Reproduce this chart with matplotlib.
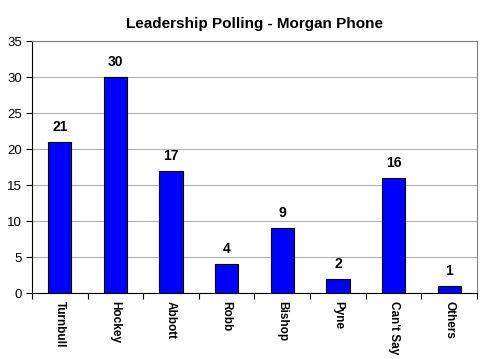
import matplotlib
matplotlib.use("Agg")
import matplotlib.pyplot as plt
import numpy as np

categories = ["Turnbull", "Hockey", "Abbott", "Robb", "Bishop", "Pyne", "Can't Say", "Others"]
values = [21, 30, 17, 4, 9, 2, 16, 1]
yticks = [0, 5, 10, 15, 20, 25, 30, 35]

plt.rcParams['font.family'] = ['Liberation Sans', 'DejaVu Sans']

fig = plt.figure(figsize=(4.85, 3.59), dpi=100)
ax = fig.add_axes([32/485, 1-293/359, 445/485, 252/359])
x = np.arange(len(categories))
ax.bar(x, values, width=0.42, color='#0000FF', edgecolor='black', linewidth=0.8, zorder=3)
for xi, v in zip(x, values):
    ax.text(xi, v + 1.1, str(v), ha='center', va='bottom', fontsize=10, fontweight='bold')

ax.set_xlim(-0.5, len(categories) - 0.5)
ax.set_ylim(0, 35)
ax.set_yticks(yticks)
ax.set_yticklabels([str(t) for t in yticks], fontsize=9.5)
ax.yaxis.grid(True, color='#B0B0B0', linewidth=0.8, zorder=0)
ax.set_xticks(np.arange(-0.5, len(categories), 1.0))
ax.set_xticklabels([])
ax.set_xticks(x, minor=True)
ax.set_xticklabels(categories, minor=True, rotation=270, fontsize=8.5, fontweight='bold', va='top', ha='center')
ax.tick_params(axis='x', which='major', direction='out', length=4, color='black')
ax.tick_params(axis='x', which='minor', length=0, pad=6)
ax.tick_params(axis='y', direction='out', length=4, color='black', pad=3)
ax.spines['left'].set_color('black')
ax.spines['bottom'].set_color('black')
ax.spines['top'].set_color('#808080')
ax.spines['right'].set_color('#808080')
fig.suptitle("Leadership Polling - Morgan Phone", x=(32+445/2)/485, y=1-24/359, va='center', fontsize=11, fontweight='bold')
fig.savefig("out.png", dpi=100)
